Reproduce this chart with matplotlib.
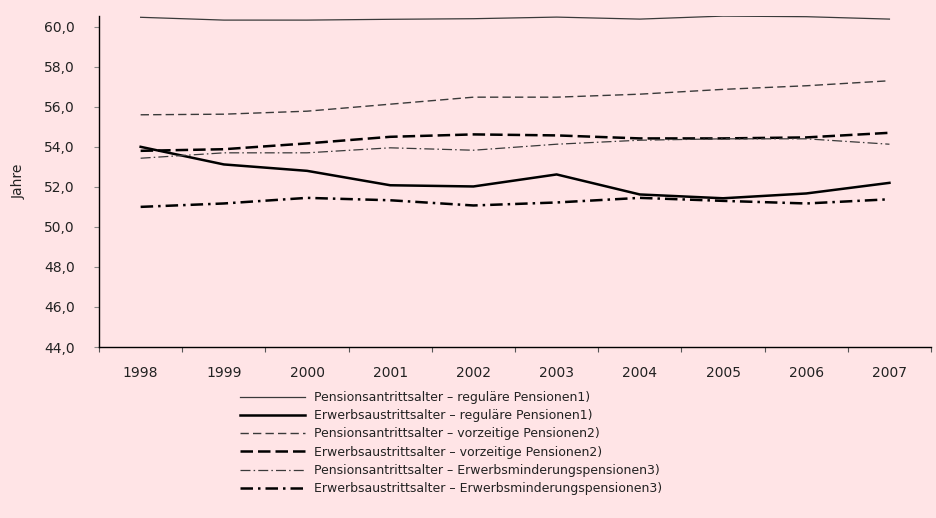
import matplotlib
matplotlib.use("Agg")
import matplotlib.pyplot as plt
from matplotlib.ticker import FixedLocator, FuncFormatter

years = ["1998", "1999", "2000", "2001", "2002", "2003", "2004", "2005", "2006", "2007"]

pens_regulaer = [60.47, 60.33, 60.33, 60.37, 60.40, 60.48, 60.38, 60.53, 60.50, 60.38]
erw_regulaer = [54.00, 53.12, 52.80, 52.08, 52.02, 52.62, 51.62, 51.43, 51.67, 52.20]
pens_vorzeitig = [55.60, 55.63, 55.78, 56.13, 56.48, 56.48, 56.63, 56.87, 57.05, 57.30]
erw_vorzeitig = [53.80, 53.88, 54.17, 54.50, 54.62, 54.57, 54.42, 54.42, 54.47, 54.70]
pens_minderung = [53.43, 53.70, 53.70, 53.95, 53.83, 54.13, 54.33, 54.40, 54.40, 54.13]
erw_minderung = [51.00, 51.17, 51.45, 51.33, 51.07, 51.22, 51.45, 51.30, 51.17, 51.38]

labels = [
    "Pensionsantrittsalter \u2013 reguläre Pensionen1)",
    "Erwerbsaustrittsalter \u2013 reguläre Pensionen1)",
    "Pensionsantrittsalter \u2013 vorzeitige Pensionen2)",
    "Erwerbsaustrittsalter \u2013 vorzeitige Pensionen2)",
    "Pensionsantrittsalter \u2013 Erwerbsminderungspensionen3)",
    "Erwerbsaustrittsalter \u2013 Erwerbsminderungspensionen3)",
]

plt.rcParams['font.family'] = ['DejaVu Sans']
bg = '#FFE4E6'
fig = plt.figure(figsize=(9.36, 5.18), dpi=100, facecolor=bg)
ax = fig.add_axes([0.1058, 0.3301, 0.8889, 0.6396], facecolor=bg)

x = list(range(len(years)))
thin = '#3a3a3a'
ax.plot(x, pens_regulaer, color=thin, lw=0.9, label=labels[0])
ax.plot(x, erw_regulaer, color='black', lw=1.8, label=labels[1])
ax.plot(x, pens_vorzeitig, color=thin, lw=1.0, dashes=(6, 3), label=labels[2])
ax.plot(x, erw_vorzeitig, color='black', lw=1.8, dashes=(5, 2), label=labels[3])
ax.plot(x, pens_minderung, color=thin, lw=0.9, dashes=(8, 2.5, 1.2, 2.5), label=labels[4])
ax.plot(x, erw_minderung, color='black', lw=1.8, dashes=(5, 2, 1, 2), label=labels[5])

ax.set_xlim(-0.5, len(years) - 0.5)
ax.set_ylim(44, 60.55)
ax.yaxis.set_major_locator(FixedLocator([44, 46, 48, 50, 52, 54, 56, 58, 60]))
ax.yaxis.set_major_formatter(FuncFormatter(lambda v, p: f"{v:.1f}".replace('.', ',')))

ax.xaxis.set_major_locator(FixedLocator([i - 0.5 for i in range(len(years) + 1)]))
ax.xaxis.set_major_formatter(FuncFormatter(lambda v, p: ""))
ax.xaxis.set_minor_locator(FixedLocator(x))
ax.set_xticklabels(years, minor=True)
ax.tick_params(axis='x', which='major', direction='out', length=3.6, width=0.8, color='#555555')
ax.tick_params(axis='x', which='minor', length=0, pad=14, labelsize=10, labelcolor='#222222')
ax.tick_params(axis='y', direction='out', length=3.6, width=0.8, color='#888888', pad=14,
               labelsize=10, labelcolor='#222222')

for s in ['top', 'right']:
    ax.spines[s].set_visible(False)
for s in ['left', 'bottom']:
    ax.spines[s].set_color('black')
    ax.spines[s].set_linewidth(1.0)

ax.set_ylabel("Jahre", fontsize=10, color='#222222')
ax.yaxis.set_label_coords(-0.088, 0.5)

leg = fig.legend(loc='upper left', bbox_to_anchor=(0.251, 0.255), frameon=False,
                 fontsize=9, handlelength=5.2, handletextpad=0.7, labelspacing=0.42,
                 borderaxespad=0, labelcolor='#222222')

fig.savefig("out.png", dpi=100, facecolor=bg)
